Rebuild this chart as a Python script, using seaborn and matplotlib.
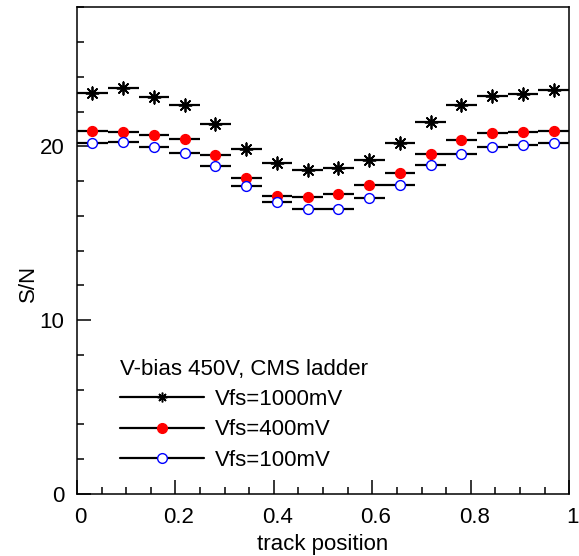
import numpy as np
import pandas as pd
import seaborn as sns
import matplotlib.pyplot as plt
import matplotlib.transforms as mtransforms
from matplotlib.lines import Line2D
from matplotlib.ticker import MultipleLocator

# bin centres of the track position (16 bins over 0..1)
track_pos = [0.03125, 0.09375, 0.15625, 0.21875, 0.28125, 0.34375, 0.40625, 0.46875,
             0.53125, 0.59375, 0.65625, 0.71875, 0.78125, 0.84375, 0.90625, 0.96875]
bin_half = 0.03125

sn_1000 = [23.09, 23.34, 22.86, 22.38, 21.31, 19.84, 19.03, 18.62,
           18.73, 19.19, 20.17, 21.42, 22.36, 22.92, 23.00, 23.23]
sn_400 = [20.88, 20.81, 20.67, 20.40, 19.50, 18.20, 17.14, 17.08,
          17.27, 17.77, 18.48, 19.58, 20.39, 20.79, 20.85, 20.86]
sn_100 = [20.21, 20.23, 19.96, 19.61, 18.89, 17.73, 16.81, 16.37,
          16.41, 17.04, 17.77, 18.92, 19.58, 19.94, 20.07, 20.21]

labels = ["Vfs=1000mV", "Vfs=400mV", "Vfs=100mV"]
legend_title = "V-bias 450V, CMS ladder"

sns.set_style("ticks")
plt.rcParams['font.family'] = ['Liberation Sans', 'DejaVu Sans']
plt.rcParams['font.size'] = 16
plt.rcParams['text.color'] = 'black'
plt.rcParams['axes.labelcolor'] = 'black'
plt.rcParams['legend.labelcolor'] = 'black'

fig = plt.figure(figsize=(5.79, 5.56), dpi=100)
ax = fig.add_axes([0.133, 0.1115, 0.850, 0.8755])

df = pd.DataFrame({
    "pos": track_pos * 3,
    "sn": sn_1000 + sn_400 + sn_100,
    "series": [labels[0]] * 16 + [labels[1]] * 16 + [labels[2]] * 16,
})

styles = {
    labels[0]: dict(marker=(8, 2, 0), facecolor="black", edgecolor="black", s=80, linewidth=1.3),
    labels[1]: dict(marker="o", facecolor="red", edgecolor="red", s=50, linewidth=1.0),
    labels[2]: dict(marker="o", facecolor="white", edgecolor="blue", s=50, linewidth=1.0),
}

for name in labels:
    sub = df[df["series"] == name]
    ax.errorbar(sub["pos"], sub["sn"], xerr=bin_half, fmt="none",
                ecolor="black", elinewidth=1.6, capsize=0, zorder=2)
    st = styles[name]
    sns.scatterplot(data=sub, x="pos", y="sn", ax=ax, marker=st["marker"],
                    color=st["facecolor"], edgecolor=st["edgecolor"], s=st["s"],
                    linewidth=st["linewidth"], zorder=3, legend=False)

ax.set_xlim(0, 1)
ax.set_ylim(0, 28)
ax.xaxis.set_major_locator(MultipleLocator(0.2))
ax.xaxis.set_minor_locator(MultipleLocator(0.05))
ax.yaxis.set_major_locator(MultipleLocator(10))
ax.yaxis.set_minor_locator(MultipleLocator(2))
ax.set_xticks([0, 0.2, 0.4, 0.6, 0.8, 1.0], ["0", "0.2", "0.4", "0.6", "0.8", "1"])
ax.tick_params(which="both", direction="in", top=False, right=False, width=1.1,
               labelsize=16, colors="black")
ax.tick_params(which="major", length=10)
ax.tick_params(which="minor", length=5)
ax.tick_params(axis="x", pad=9)
ax.tick_params(axis="y", pad=9)
for sp in ax.spines.values():
    sp.set_linewidth(1.1)
    sp.set_color("black")

# ROOT places the x labels slightly to the right of their ticks
shift = mtransforms.ScaledTranslation(0.035, 0, fig.dpi_scale_trans)
for lab in ax.get_xticklabels():
    lab.set_transform(lab.get_transform() + shift)

ax.set_xlabel("track position", fontsize=16)
ax.set_ylabel("S/N", fontsize=16)
ax.xaxis.set_label_coords(0.5, -0.082)
ax.yaxis.set_label_coords(-0.077, 0.433)

handles = [
    Line2D([], [], color="black", lw=1.6, marker=(8, 2, 0), markersize=7,
           markerfacecolor="black", markeredgecolor="black", markeredgewidth=1.1),
    Line2D([], [], color="black", lw=1.6, marker="o", markersize=7,
           markerfacecolor="red", markeredgecolor="red"),
    Line2D([], [], color="black", lw=1.6, marker="o", markersize=7,
           markerfacecolor="white", markeredgecolor="blue"),
]
ax.legend(handles, labels, title=legend_title, loc="upper left",
          bbox_to_anchor=(0.087, 0.278), frameon=False, fontsize=16,
          title_fontsize=16, alignment="left", handlelength=3.78,
          handletextpad=0.5, labelspacing=0.42, borderpad=0, borderaxespad=0)

plt.savefig("out.png", dpi=100)
